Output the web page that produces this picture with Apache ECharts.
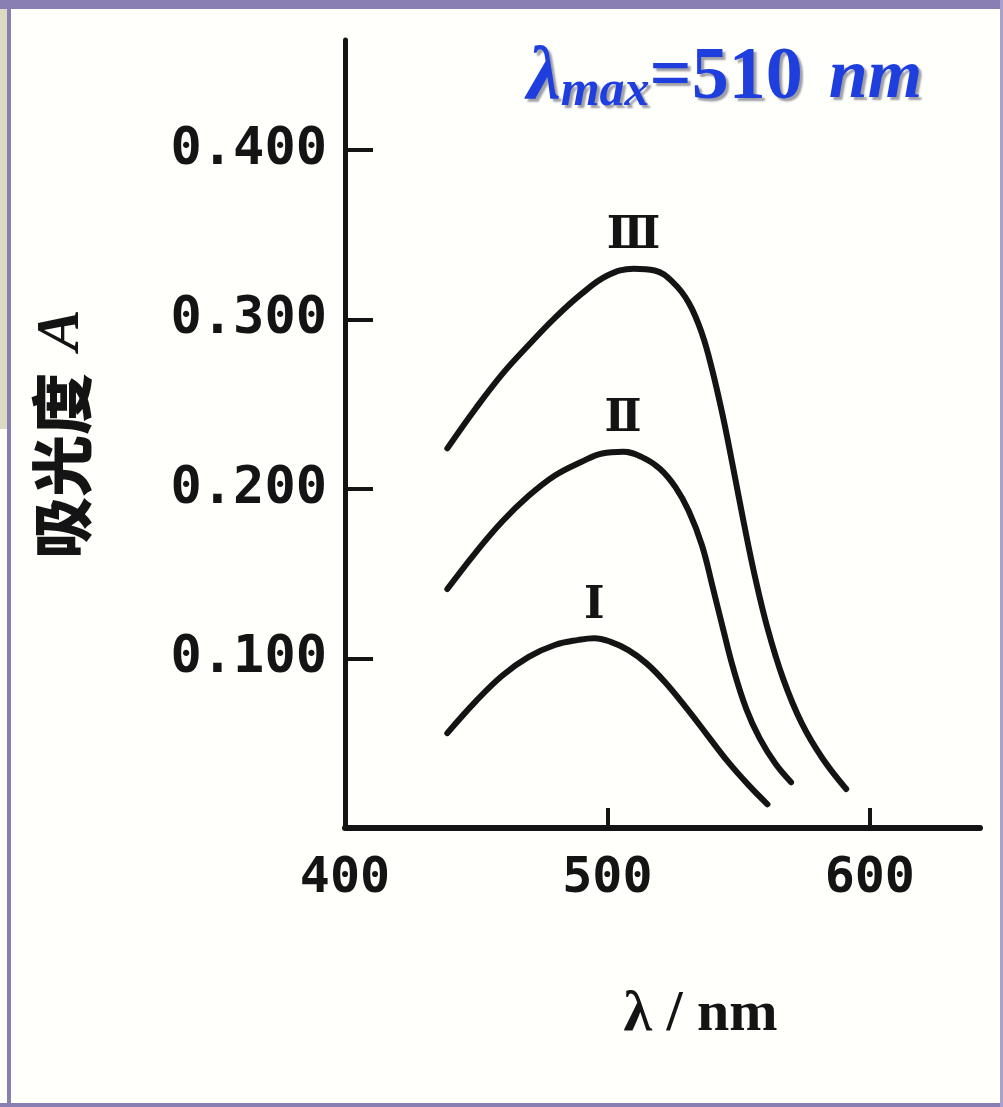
<!DOCTYPE html>
<html>
<head>
<meta charset="utf-8">
<script src="https://cdn.jsdelivr.net/npm/echarts@6/dist/echarts.min.js"></script>
<style>
html,body{margin:0;padding:0;background:#fffffc;}
#chart{width:1003px;height:1107px;}
</style>
</head>
<body>
<div id="chart"></div>
<script>
// ---- data ----
const curveNames = ['Ⅰ', 'Ⅱ', 'Ⅲ'];

const lambdaI = [439, 450, 460, 470, 480, 489, 495, 501, 508, 515, 522, 530, 538, 546, 554, 561];
const absI    = [0.056, 0.075, 0.090, 0.101, 0.108, 0.111, 0.112, 0.110, 0.105, 0.097, 0.086, 0.071, 0.055, 0.039, 0.025, 0.014];

const lambdaII = [439, 450, 460, 470, 480, 490, 498, 506, 513, 520, 526, 531, 536, 540, 544, 548, 553, 558, 564, 570];
const absII    = [0.141, 0.163, 0.181, 0.196, 0.208, 0.216, 0.221, 0.222, 0.219, 0.212, 0.201, 0.187, 0.167, 0.143, 0.118, 0.094, 0.070, 0.053, 0.038, 0.027];

const lambdaIII = [439, 450, 460, 470, 480, 490, 500, 510, 518, 525, 531, 536, 540, 544, 548, 552, 556, 561, 567, 574, 582, 591];
const absIII    = [0.224, 0.248, 0.268, 0.285, 0.301, 0.315, 0.326, 0.330, 0.329, 0.322, 0.310, 0.292, 0.270, 0.243, 0.212, 0.180, 0.150, 0.118, 0.088, 0.062, 0.041, 0.023];

const xTickLabels = [400, 500, 600];
const xTickMarks  = [500, 600];
const yTickValues = [0.1, 0.2, 0.3, 0.4];

const xMin = 400, xMax = 642;
const yMin = 0, yMax = 0.465;

// ---- build ----
const zip = (xs, ys) => xs.map((x, i) => [x, ys[i]]);
const seriesData = [zip(lambdaI, absI), zip(lambdaII, absII), zip(lambdaIII, absIII)];

const ink = '#141414';
const frame = '#8a7fb2';
const blue = '#1e3ede';
const shadow = {textShadowColor: 'rgba(40,40,60,0.45)', textShadowOffsetX: 3, textShadowOffsetY: 3, textShadowBlur: 2};

const chart = echarts.init(document.getElementById('chart'), null, {renderer: 'canvas'});

const series = seriesData.map((d, i) => ({
  type: 'line',
  data: d,
  smooth: 0.4,
  showSymbol: false,
  symbol: 'none',
  lineStyle: {color: ink, width: 6, cap: 'round', join: 'round'},
  silent: true,
  animation: false,
  markPoint: {
    symbol: 'circle',
    symbolSize: 0,
    silent: true,
    data: [{type: 'max', name: curveNames[i]}],
    label: {
      show: true,
      position: 'top',
      distance: 10,
      formatter: curveNames[i],
      fontFamily: '"DejaVu Serif"',
      fontWeight: 'bold',
      fontSize: 44,
      color: ink
    }
  }
}));

const option = {
  backgroundColor: '#fffffc',
  animation: false,
  title: {
    left: 522,
    top: 36,
    text: '{l|λ}{s|max}{n|=510}{u|nm}',
    textStyle: {
      rich: {
        l: Object.assign({fontFamily: '"Liberation Serif"', fontStyle: 'italic', fontWeight: 'bold', fontSize: 76, lineHeight: 76, color: blue}, shadow),
        s: Object.assign({fontFamily: '"Liberation Serif"', fontStyle: 'italic', fontWeight: 'bold', fontSize: 50, lineHeight: 30, verticalAlign: 'bottom', color: blue}, shadow),
        n: Object.assign({fontFamily: '"Liberation Serif"', fontWeight: 'bold', fontSize: 74, lineHeight: 76, color: blue}, shadow),
        u: Object.assign({fontFamily: '"Liberation Serif"', fontStyle: 'italic', fontWeight: 'bold', fontSize: 70, lineHeight: 76, color: blue, padding: [0, 0, 0, 26]}, shadow)
      }
    }
  },
  grid: {left: 345, right: 23, top: 40, bottom: 279, containLabel: false},
  xAxis: {
    type: 'value',
    min: xMin, max: xMax,
    name: 'λ / nm',
    nameLocation: 'middle',
    nameGap: 158,
    nameTextStyle: {fontFamily: '"Liberation Serif"', fontWeight: 'bold', fontSize: 58, color: ink, padding: [0, 0, 0, 76]},
    axisLine: {show: true, onZero: false, lineStyle: {color: ink, width: 6}},
    axisTick: {show: true, inside: true, length: 20, customValues: xTickMarks, lineStyle: {color: ink, width: 4}},
    axisLabel: {show: true, customValues: xTickLabels, margin: 26, fontFamily: '"DejaVu Sans Mono"', fontWeight: 'bold', fontSize: 50, color: ink},
    splitLine: {show: false}
  },
  yAxis: {
    type: 'value',
    min: yMin, max: yMax,
    name: '{c|吸光度}{a|A}',
    nameLocation: 'middle',
    nameRotate: 90,
    nameGap: 252,
    nameTextStyle: {
      rich: {
        c: {fontFamily: '"Noto Sans CJK SC"', fontWeight: 900, fontSize: 62, color: ink},
        a: {fontFamily: '"Liberation Serif"', fontStyle: 'italic', fontWeight: 'bold', fontSize: 62, color: ink, padding: [0, 0, 0, 22]}
      }
    },
    axisLine: {show: true, onZero: false, lineStyle: {color: ink, width: 5}},
    axisTick: {show: true, inside: true, length: 28, customValues: yTickValues, lineStyle: {color: ink, width: 4}},
    axisLabel: {show: true, customValues: yTickValues, margin: 18, formatter: v => v.toFixed(3),
      fontFamily: '"DejaVu Sans Mono"', fontWeight: 'bold', fontSize: 52, color: ink},
    splitLine: {show: false}
  },
  graphic: [
    {type: 'rect', silent: true, shape: {x: 0, y: 0, width: 1003, height: 9}, style: {fill: frame}},
    {type: 'rect', silent: true, shape: {x: 0, y: 9, width: 7, height: 420}, style: {fill: '#dcdac3'}},
    {type: 'rect', silent: true, shape: {x: 7, y: 0, width: 4, height: 1107}, style: {fill: frame}},
    {type: 'rect', silent: true, shape: {x: 0, y: 1103, width: 1003, height: 4}, style: {fill: frame}},
    {type: 'rect', silent: true, shape: {x: 1000, y: 0, width: 3, height: 1107}, style: {fill: '#a9a1cc'}}
  ],
  series: series
};

chart.setOption(option);
</script>
</body>
</html>
